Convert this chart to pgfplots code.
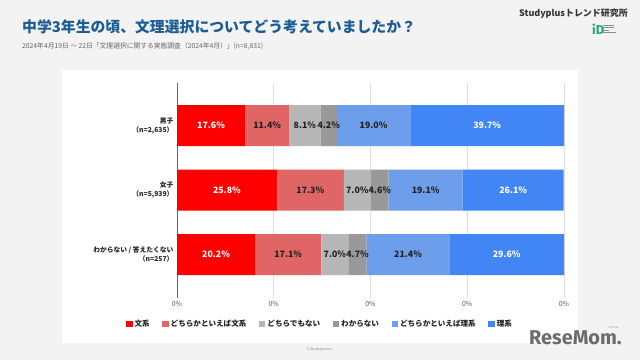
\documentclass[border=0pt]{standalone}
\usepackage{pgfplots}
\pgfplotsset{compat=1.18}
\usepackage{fontspec}
\setmainfont{Noto Sans CJK JP}
\newfontfamily\fira{Fira Sans}
\definecolor{bg}{HTML}{F3F3F3}
\definecolor{titleblue}{HTML}{1B5C96}
\definecolor{cA}{HTML}{FF0000}
\definecolor{cB}{HTML}{E06666}
\definecolor{cC}{HTML}{B7B7B7}
\definecolor{cD}{HTML}{999999}
\definecolor{cE}{HTML}{6D9EEB}
\definecolor{cF}{HTML}{4285F4}
\definecolor{gridgray}{HTML}{DDDDDD}
\definecolor{txt}{HTML}{222222}
\definecolor{logogreen}{HTML}{22A57A}
\newcommand{\lfont}{\fontsize{8.8}{9}\selectfont\bfseries}
\begin{document}
\begin{tikzpicture}[x=1bp,y=1bp,
  lw/.style={text=white, font=\lfont, inner sep=0pt},
  ld/.style={text=txt, font=\lfont, inner sep=0pt}]
\fill[bg] (0,0) rectangle (640,360);
\fill[white] (62,17) rectangle (578,290);
\node[anchor=west, inner sep=0, text=titleblue, font=\fontsize{14.9}{16}\selectfont\bfseries] at (22,333) {中学3年生の頃、文理選択についてどう考えていましたか？};
\node[anchor=west, inner sep=0, text=black!60, font=\fontsize{6.8}{7.5}\selectfont] at (22,314) {2024年4月19日 ～ 22日「文理選択に関する実態調査（2024年4月）」(n=8,831)};
\node[anchor=east, inner sep=0, text=black!80, font=\fontsize{9}{10}\selectfont\bfseries] at (628,346) {Studyplusトレンド研究所};
\node[anchor=west, inner sep=0, text=logogreen, font=\fira\bfseries\fontsize{13}{13}\selectfont] at (592,331) {iD};
\foreach \yy/\ll in {335/11, 332.5/11, 330/6, 327.5/13} {\draw[black!45, line width=0.6bp] (603,\yy) -- ++(\ll,0);}
\node[anchor=west, inner sep=0, text=black!58, font=\fira\bfseries\fontsize{20}{20}\selectfont] at (529,22.5) {ReseMom.};
\node[inner sep=0, text=black!55, font=\fontsize{2.5}{3}\selectfont] at (613,32.5) {リセマム};
\node[inner sep=0, text=black!50, font=\fontsize{3.5}{4}\selectfont] at (320,10) {© Studyplus Inc.};
\begin{axis}[
  at={(177bp,62bp)}, anchor=south west, scale only axis,
  width=387bp, height=215bp,
  xbar stacked, reverse stacked plots=false, bar width=41bp,
  xmin=0, xmax=100, ymin=-0.66, ymax=2.674, y dir=reverse,
  axis line style={draw=none}, major tick length=0pt,
  ytick={0,1,2},
  yticklabels={{男子\\（n=2,635）},{女子\\（n=5,939）},{わからない / 答えたくない\\（n=257）}},
  yticklabel style={align=right, text=txt, font=\fontsize{6.8}{9}\selectfont\bfseries},
  xtick={25,50,75,100},
  xticklabels={0\%,0\%,0\%,0\%},
  extra x ticks={0}, extra x tick labels={0\%},
  extra x tick style={grid style={draw=black!60, line width=0.8bp}},
  xticklabel style={text=black!65, font=\fontsize{7}{8}\selectfont},
  xmajorgrids, grid style={draw=gridgray, line width=0.6bp},
  legend columns=6,
  legend style={at={(0.3695,-0.121)}, anchor=center, draw=none, fill=none,
    font=\fontsize{7.6}{8}\selectfont\bfseries, text=txt,
    /tikz/every even column/.append style={column sep=10.5bp}},
  legend image code/.code={\fill[#1] (0bp,-3bp) rectangle (6.5bp,3.5bp);},
]
\addplot[fill=cA, draw=none] coordinates {(17.6,0) (25.8,1) (20.2,2)};
\addplot[fill=cB, draw=none] coordinates {(11.4,0) (17.3,1) (17.1,2)};
\addplot[fill=cC, draw=none] coordinates {(8.1,0) (7.0,1) (7.0,2)};
\addplot[fill=cD, draw=none] coordinates {(4.2,0) (4.6,1) (4.7,2)};
\addplot[fill=cE, draw=none] coordinates {(19.0,0) (19.1,1) (21.4,2)};
\addplot[fill=cF, draw=none] coordinates {(39.7,0) (26.1,1) (29.6,2)};
\legend{文系,どちらかといえば文系,どちらでもない,わからない,どちらかといえば理系,理系}
\node[lw] at (axis cs:8.8,0) {17.6\%};
\node[ld] at (axis cs:23.3,0) {11.4\%};
\node[ld] at (axis cs:33.05,0) {8.1\%};
\node[ld] at (axis cs:39.2,0) {4.2\%};
\node[ld] at (axis cs:50.8,0) {19.0\%};
\node[lw] at (axis cs:80.15,0) {39.7\%};
\node[lw] at (axis cs:12.9,1) {25.8\%};
\node[ld] at (axis cs:34.45,1) {17.3\%};
\node[ld] at (axis cs:46.6,1) {7.0\%};
\node[ld] at (axis cs:52.4,1) {4.6\%};
\node[ld] at (axis cs:64.25,1) {19.1\%};
\node[lw] at (axis cs:86.85,1) {26.1\%};
\node[lw] at (axis cs:10.1,2) {20.2\%};
\node[ld] at (axis cs:28.75,2) {17.1\%};
\node[ld] at (axis cs:40.8,2) {7.0\%};
\node[ld] at (axis cs:46.65,2) {4.7\%};
\node[ld] at (axis cs:59.7,2) {21.4\%};
\node[lw] at (axis cs:85.2,2) {29.6\%};
\end{axis}
\end{tikzpicture}
\end{document}
